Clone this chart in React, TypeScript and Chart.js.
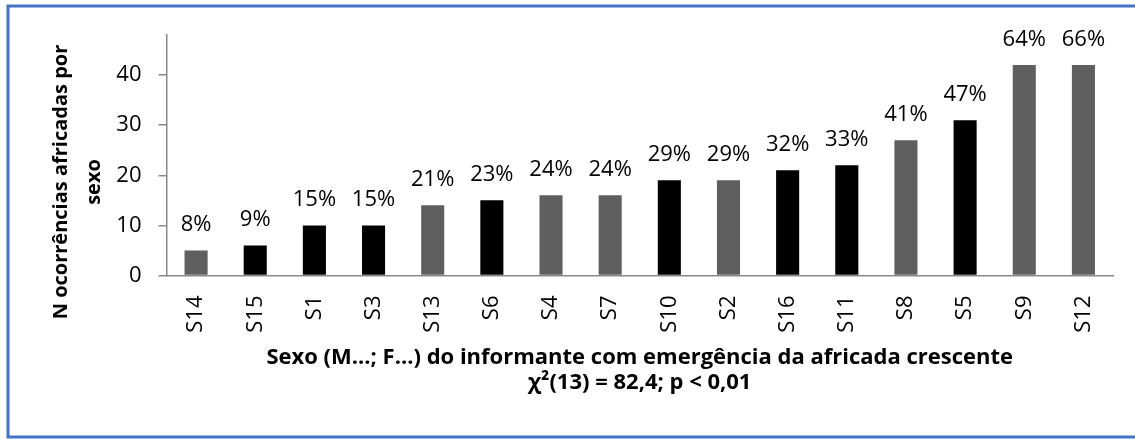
import React, { useEffect, useRef } from "react";
import { Chart, registerables } from "chart.js";

Chart.register(...registerables);

const categories = ["S14", "S15", "S1", "S3", "S13", "S6", "S4", "S7", "S10", "S2", "S16", "S11", "S8", "S5", "S9", "S12"];
const counts = [5, 6, 10, 10, 14, 15, 16, 16, 19, 19, 21, 22, 27, 31, 42, 42];
const percentLabels = ["8%", "9%", "15%", "15%", "21%", "23%", "24%", "24%", "29%", "29%", "32%", "33%", "41%", "47%", "64%", "66%"];
// "g" = grey bar, "b" = black bar
const barTone = ["g", "b", "b", "b", "g", "b", "g", "g", "b", "g", "b", "b", "g", "b", "g", "g"];
const yTickValues = [0, 10, 20, 30, 40];
const yAxisTitle = ["N ocorrências africadas por", "sexo"];
const xAxisTitle = ["Sexo (M...; F...) do informante com emergência da africada crescente", "χ²(13) = 82,4; p < 0,01"];

const GREY = "#5f5f5f";
const BLACK = "#000000";
const AXIS = "#898989";
const FONT = "'Open Sans', sans-serif";

const frameAndLabels = {
  id: "frameAndLabels",
  beforeDraw(chart: any) {
    const { ctx, width, height } = chart;
    ctx.save();
    ctx.fillStyle = "#ffffff";
    ctx.fillRect(0, 0, width, height);
    ctx.restore();
  },
  afterDatasetsDraw(chart: any) {
    const { ctx } = chart;
    const meta = chart.getDatasetMeta(0);
    ctx.save();
    ctx.font = `22px ${FONT}`;
    ctx.fillStyle = "#000";
    ctx.textAlign = "center";
    ctx.textBaseline = "alphabetic";
    meta.data.forEach((bar: any, i: number) => {
      ctx.fillText(percentLabels[i], bar.x, bar.y - 19);
    });
    ctx.restore();
  },
  afterDraw(chart: any) {
    const { ctx } = chart;
    ctx.save();
    // y-axis title (two lines, rotated)
    ctx.font = `bold 20px ${FONT}`;
    ctx.fillStyle = "#000";
    ctx.textAlign = "center";
    ctx.textBaseline = "alphabetic";
    ctx.translate(0, 182);
    ctx.rotate(-Math.PI / 2);
    ctx.fillText(yAxisTitle[0], 0, 67);
    ctx.fillText(yAxisTitle[1], 0, 100);
    ctx.restore();

    ctx.save();
    ctx.strokeStyle = "#4472C4";
    ctx.lineWidth = 3;
    ctx.beginPath();
    ctx.moveTo(1140, 6);
    ctx.lineTo(8, 6);
    ctx.lineTo(8, 437);
    ctx.lineTo(1140, 437);
    ctx.stroke();
    ctx.restore();
  },
};

export default function App() {
  const ref = useRef<HTMLCanvasElement | null>(null);

  useEffect(() => {
    if (!ref.current) return;
    const chart = new Chart(ref.current, {
      type: "bar",
      data: {
        labels: categories,
        datasets: [
          {
            data: counts,
            backgroundColor: barTone.map((t) => (t === "g" ? GREY : BLACK)),
            borderWidth: 0,
            categoryPercentage: 1,
            barPercentage: 0.39,
          },
        ],
      },
      options: {
        responsive: false,
        animation: false,
        events: [],
        layout: { padding: { left: 20, top: 35, right: 22, bottom: 0 } },
        plugins: {
          legend: { display: false },
          tooltip: { enabled: false },
          title: { display: false },
        },
        scales: {
          x: {
            grid: { display: true, drawOnChartArea: false, drawTicks: false, color: AXIS },
            border: { display: true, color: AXIS, width: 1.5 },
            ticks: {
              autoSkip: false,
              maxRotation: 90,
              minRotation: 90,
              padding: 20,
              color: "#000",
              font: { family: FONT, size: 22 },
            },
            title: {
              display: true,
              text: xAxisTitle,
              color: "#000",
              font: { family: FONT, size: 22, weight: "bold", lineHeight: 25 / 22 },
              padding: { top: 0, bottom: 44 },
            },
            afterFit(scale: any) {
              scale.height = 439 - 275.5;
            },
          },
          y: {
            min: 0,
            max: 48,
            afterBuildTicks(scale: any) {
              scale.ticks = yTickValues.map((v) => ({ value: v }));
            },
            grid: { display: true, drawOnChartArea: false, drawTicks: true, tickLength: 8, color: AXIS, lineWidth: 1.5 },
            border: { display: true, color: AXIS, width: 1.5 },
            ticks: {
              padding: 17,
              color: "#000",
              font: { family: FONT, size: 22 },
            },
            title: { display: false },
            afterFit(scale: any) {
              scale.width = 166.5 - 20;
            },
          },
        },
      },
      plugins: [frameAndLabels],
    });
    return () => chart.destroy();
  }, []);

  return (
    <div style={{ position: "absolute", left: 0, top: 0, width: 1135, height: 439 }}>
      <canvas ref={ref} width={1135} height={439} style={{ display: "block" }} />
    </div>
  );
}
